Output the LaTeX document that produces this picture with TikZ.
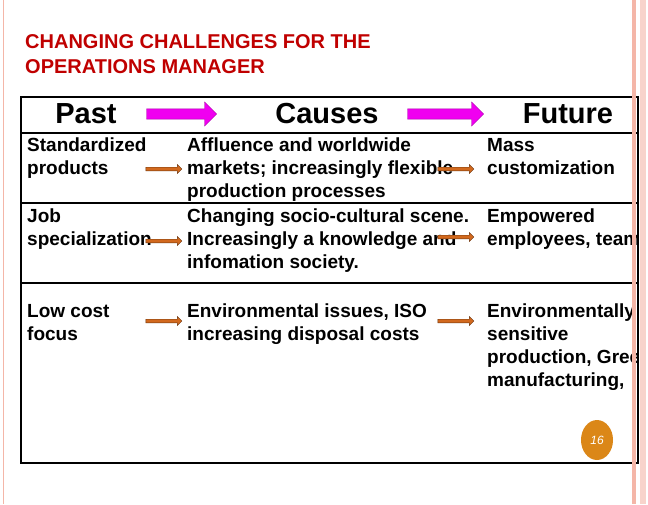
\documentclass[tikz,border=0pt]{standalone}
\usepackage{fontspec}
\setmainfont{Liberation Sans}
\usetikzlibrary{shapes.arrows,shapes.geometric}
\definecolor{ttl}{HTML}{C00000}
\definecolor{org}{HTML}{D2691E}
\definecolor{pinkb}{HTML}{F4B6A8}
\definecolor{mag}{HTML}{F000F0}
\begin{document}
\begin{tikzpicture}[x=1pt,y=-1pt,
  body/.style={anchor=north west,inner sep=0pt,align=left,font=\fontsize{19}{23}\selectfont\bfseries},
  head/.style={inner sep=0pt,font=\fontsize{29}{30}\selectfont\bfseries},
  big/.style={single arrow,fill=mag,draw=mag!70!black,minimum height=70pt,minimum width=24pt,single arrow head extend=3pt,inner sep=2pt},
  sm/.style={single arrow,fill=org,draw=org!50!black,minimum height=36pt,minimum width=9pt,single arrow head extend=1.5pt,inner sep=0.8pt,line width=0.4pt}]
\useasboundingbox (0,0) rectangle (648,504);
\fill[white] (0,0) rectangle (648,504);
\draw[pinkb,line width=1pt] (3,0) -- (3,504);
\node[anchor=west,inner sep=0pt,text=ttl,align=left,font=\fontsize{20}{25}\selectfont\bfseries] (t) at (25,54) {CHANGING CHALLENGES FOR THE\\OPERATIONS MANAGER};
\draw[line width=2.5pt] (21,97) rectangle (638,463);
\draw[line width=2pt] (21,133) -- (638,133) (21,203) -- (638,203) (21,283) -- (638,283);
\node[head] (past) at (86,114) {Past};
\node[head] (causes) at (327,114) {Causes};
\node[head] (fut) at (568,114) {Future};
\node[big] (a1) at (179,114) {};
\node[big,minimum height=76pt] (a2) at (443,114) {};
\node[body] (p1) at (27,138) {Standardized\\products};
\node[body] (c1) at (187,138) {Affluence and worldwide\\markets; increasingly flexible\\production processes};
\node[body] (f1) at (487,138) {Mass\\customization};
\node[body] (p2) at (27,209) {Job\\specialization};
\node[body] (c2) at (187,209) {Changing socio-cultural scene.\\Increasingly a knowledge and\\infomation society.};
\node[body] (f2) at (487,209) {Empowered\\employees, teams};
\node[body] (p3) at (27,304) {Low cost\\focus};
\node[body] (c3) at (187,304) {Environmental issues, ISO\\increasing disposal costs};
\node[body] (f3) at (487,304) {Environmentally\\sensitive\\production, Green\\manufacturing,};
\node[sm] (s1) at (163,169) {};
\node[sm] (s2) at (455,169) {};
\node[sm] (s3) at (163,241) {};
\node[sm] (s4) at (455,237) {};
\node[sm] (s5) at (163,321) {};
\node[sm] (s6) at (455,321) {};
\fill[white] (639,0) rectangle (648,504);
\fill[pinkb] (632,0) rectangle (636,504);
\fill[pinkb!60] (640,0) rectangle (646,504);
\draw[line width=2.5pt] (638,97) -- (638,463);
\node[ellipse,fill=org!80!yellow,minimum width=32pt,minimum height=40pt,inner sep=0pt,text=white,font=\itshape\large] (pg) at (597,440) {16};
\end{tikzpicture}
\end{document}
